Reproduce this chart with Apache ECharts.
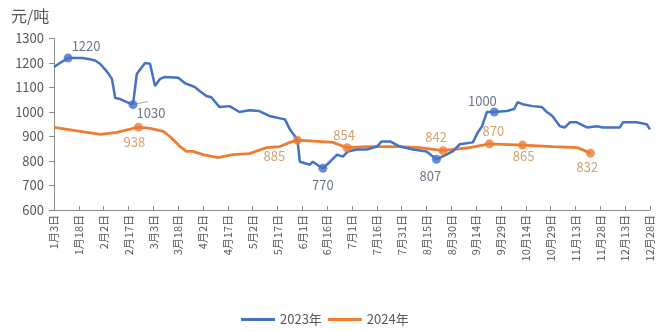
<!DOCTYPE html>
<html><head><meta charset="utf-8">
<script src="https://cdn.jsdelivr.net/npm/echarts@6/dist/echarts.min.js"></script>
<style>html,body{margin:0;padding:0;background:#fff}#c{width:666px;height:331px}</style>
</head><body><div id="c"></div>
<script>
// x = day offset from 1月3日
const tickLabels = ['1月3日','1月18日','2月2日','2月17日','3月3日','3月18日','4月2日','4月17日','5月2日','5月17日','6月1日','6月16日','7月1日','7月16日','7月31日','8月15日','8月30日','9月14日','9月29日','10月14日','10月29日','11月13日','11月28日','12月13日','12月28日'];

const blueDays = [0,3.6,8.5,17,21.7,24.8,27.8,32,35,37,40,44,47.7,50,55,58,61,64,67,75,79,85,88,92,95,100,106,112,118,124,130,139.5,142.5,147,148.5,154.6,156.4,159,162.4,166.7,171,174.5,177.5,183,189,195,198,203,209,217,225,231,237,241,245,253,256,258.5,261.5,266,273.5,278,280,283,289,294.7,297.7,301,305.6,308.6,311.6,315.8,321.9,328,331.5,341.8,343.6,352,358,360];
const blueVals = [1184,1200,1220,1220,1215,1210,1197,1165,1135,1057,1053,1040,1030,1155,1200,1197,1106,1135,1143,1140,1118,1102,1086,1065,1060,1020,1024,1000,1007,1004,984,970,929,888,797,785,797,785,770,797,826,818,839,847,847,859,880,880,859,847,839,807,826,840,868,876,917,941,1000,1000,1004,1012,1040,1032,1024,1020,1000,984,942,937,958,958,937,942,937,937,958,958,950,929];

const orangeDays = [0,8,16,28,38,51,58,66,70,76,80,84,90,99,108,118,128.6,136.5,142.5,147,159,168.5,177,189,209,221,235,241,251,263,271,283,301,316,324];
const orangeVals = [937,929,921,909,917,938,933,921,900,860,839,839,826,814,826,830,855,859,876,885,880,876,854,859,859,855,842,847,855,870,868,865,859,855,832];

const blueMarkDays = [8.5,47.7,162.4,231,266];
const blueMarkVals = [1220,1030,770,807,1000];
const orangeMarkDays = [51,147,177,235,263,283,324];
const orangeMarkVals = [938,885,854,842,870,865,832];

const blueLabelOffsets = [[18,-12],[18,8],[0,17],[-6,17],[-12,-11]];
const orangeLabelOffsets = [[-4,15],[-23,16],[-3,-13],[-7,-14],[4,-13],[1,11],[-3,14]];

const BLUE = '#4472C4', ORANGE = '#ED7D31';
const FONT = '"Noto Sans CJK SC", "Noto Sans", sans-serif';

function zip(a,b){return a.map((v,i)=>[v,b[i]]);}

const chart = echarts.init(document.getElementById('c'));
chart.setOption({
  animation:false,
  textStyle:{fontFamily:FONT},
  title:{text:'元/吨', left:6, top:3, textStyle:{fontSize:16, fontWeight:'normal', color:'#595959', fontFamily:FONT}},
  grid:{left:54, right:16, top:38.5, bottom:121},
  legend:{
    data:['2023年','2024年'], left:236, top:308, itemWidth:34, itemHeight:3, itemGap:6, icon:'rect',
    textStyle:{fontSize:13, color:'#595959', fontFamily:FONT}
  },
  xAxis:{
    type:'value', min:0, max:360, interval:15,
    axisLine:{lineStyle:{color:'#8C8C8C', width:1}},
    axisTick:{show:true, inside:true, length:4, lineStyle:{color:'#8C8C8C'}},
    splitLine:{show:false},
    axisLabel:{rotate:90, fontSize:11, color:'#595959', margin:5, fontFamily:FONT,
      formatter:v=>tickLabels[Math.round(v/15)]||''}
  },
  yAxis:{
    type:'value', min:600, max:1300, interval:100,
    axisLine:{show:true, lineStyle:{color:'#8C8C8C', width:1}},
    axisTick:{show:true, length:5, lineStyle:{color:'#8C8C8C'}},
    splitLine:{show:false},
    axisLabel:{fontSize:13, color:'#595959', margin:10, fontFamily:FONT, formatter:v=>String(v)}
  },
  series:[
    {name:'2023年', type:'line', data:zip(blueDays, blueVals), symbol:'none', lineStyle:{color:BLUE, width:2.5}, itemStyle:{color:BLUE}, z:3},
    {name:'2024年', type:'line', data:zip(orangeDays, orangeVals), symbol:'none', lineStyle:{color:ORANGE, width:2.8}, itemStyle:{color:ORANGE}, z:2},
    {name:'m2023', type:'scatter', data:zip(blueMarkDays, blueMarkVals), symbolSize:9, itemStyle:{color:BLUE}, z:5,
      label:{show:true, position:'inside', color:'#44546A', fontSize:13, fontFamily:FONT, formatter:p=>String(p.value[1])},
      labelLayout:p=>({dx:blueLabelOffsets[p.dataIndex][0], dy:blueLabelOffsets[p.dataIndex][1]}),
      markLine:{silent:true, symbol:'none', label:{show:false}, lineStyle:{color:'#A6A6A6', width:1, type:'solid'},
        data:[[{coord:[blueMarkDays[1], blueMarkVals[1]]},{coord:[blueMarkDays[1]+9, blueMarkVals[1]+13]}]]}},
    {name:'m2024', type:'scatter', data:zip(orangeMarkDays, orangeMarkVals), symbolSize:9, itemStyle:{color:ORANGE}, z:4,
      label:{show:true, position:'inside', color:'#C98A4B', fontSize:13, fontFamily:FONT, formatter:p=>String(p.value[1])},
      labelLayout:p=>({dx:orangeLabelOffsets[p.dataIndex][0], dy:orangeLabelOffsets[p.dataIndex][1]})}
  ]
});
</script></body></html>
